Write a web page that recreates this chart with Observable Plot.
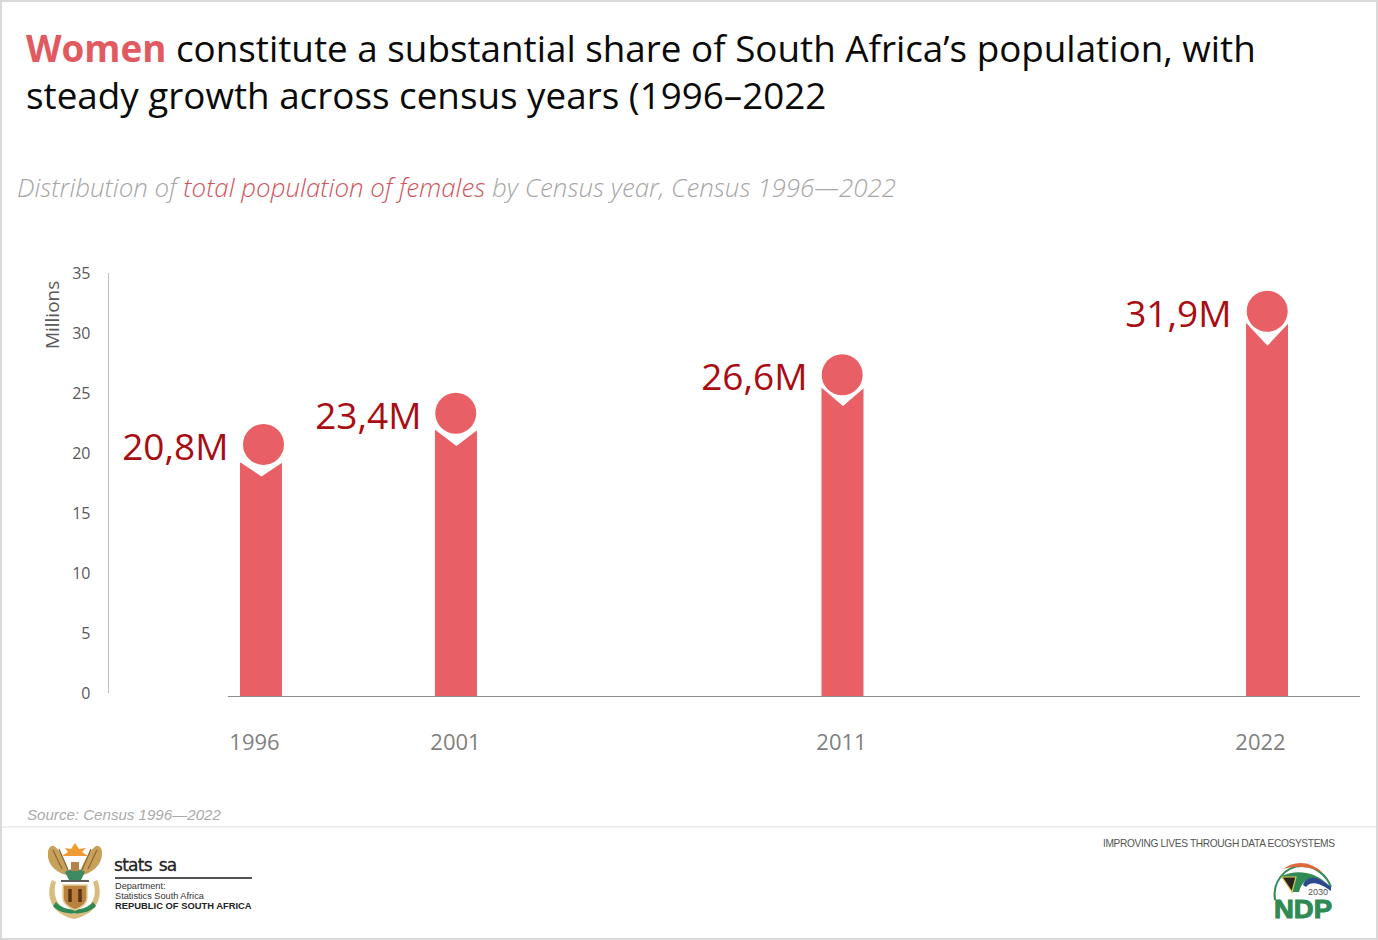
<!DOCTYPE html>
<html><head><meta charset="utf-8">
<script src="https://cdn.jsdelivr.net/npm/d3@7"></script>
<script src="https://cdn.jsdelivr.net/npm/@observablehq/plot@0.6"></script>
<style>
html,body{margin:0;padding:0;background:#fff;overflow:hidden}
#page{position:relative;width:1378px;height:940px;overflow:hidden;font-family:"Open Sans",sans-serif}
#page>*{position:absolute}
#frame{left:0;top:0;width:1374px;height:936px;border:2px solid #d9d9d9;z-index:5;pointer-events:none}
#title{left:26px;top:25px;font-size:36.8px;line-height:47px;color:#0a0a0a;white-space:nowrap}
#title b{color:#e15a60;font-weight:700}
#sub{left:17px;top:170px;font-size:25.9px;line-height:34px;font-style:italic;font-weight:300;color:#a6a6a6;white-space:nowrap}
#sub span{color:#cf5560;font-weight:300}
#chart{left:0;top:230px}
#source{left:27px;top:806px;font:italic 15.1px "Liberation Sans",sans-serif;color:#aaa}
#sep{left:0;top:826px;width:1378px;height:2px;background:#eee}
#stats{left:114px;top:855px;font:500 17px "DejaVu Sans",sans-serif;color:#222;letter-spacing:-.7px;word-spacing:2px;-webkit-text-stroke:.3px #222}
#rule{left:115px;top:877px;width:137px;height:2px;background:#555}
#dept{left:115px;top:881px;font:9.2px/10px "Liberation Sans",sans-serif;color:#333}
#dept b{color:#222;font-size:9.4px}
#motto{left:1103px;top:838px;font:10.2px "Liberation Sans",sans-serif;color:#555;white-space:nowrap;letter-spacing:-.36px}
</style></head>
<body>
<div id="page">
  <div id="title"><b>Women</b> constitute a substantial share of South Africa’s population, with<br>steady growth across census years (1996–2022</div>
  <div id="sub">Distribution of <span>total population of females</span> by Census year, Census 1996—2022</div>
  <div id="chart"></div>
  <div id="source">Source: Census 1996—2022</div>
  <div id="sep"></div>
  <svg style="left:40px;top:840px" width="70" height="85" viewBox="0 0 70 85">
    <path d="M31 36C18 34 7 26 8 13C8 8 11 5 14 6C21 10 26 24 31 36Z" fill="#c9a05a"/>
    <path d="M38 36C51 34 62 26 62 13C62 8 59 5 56 6C49 10 43 24 38 36Z" fill="#c9a05a"/>
    <path d="M13 10L22 29M19 9L28 30M57 10L48 29M51 9L42 30" stroke="#8a6a32" stroke-width="1.2"/>
    <path d="M22 16H48L42 12L46 8L39 9L35 3L31 9L25 8L28 12Z" fill="#ef9a35"/>
    <path d="M12 40C5 55 11 74 34 79C58 74 64 55 57 40L53 42C58 55 53 69 34 74C17 69 12 55 16 42Z" fill="#d8bc7d"/>
    <path d="M13 66C20 76 48 76 56 66L53 62C45 72 24 72 16 62Z" fill="#2f8a54"/>
    <path d="M25 32C30 28 40 28 45 32L41 40H29Z" fill="#3e8a62"/>
    <path d="M31 22H39V31H31Z" fill="#b5824a"/>
    <path d="M21 41H49" stroke="#333" stroke-width="1.6"/>
    <path d="M23 45H47V58C47 64 40 68 35 70C30 68 23 64 23 58Z" fill="#b9813d" stroke="#e3cf9a" stroke-width="1.5"/>
    <path d="M30 49V62M40 49V62" stroke="#5a3415" stroke-width="3.5"/>
  </svg>
  <div id="stats">stats sa</div>
  <div id="rule"></div>
  <div id="dept">Department:<br>Statistics South Africa<br><b>REPUBLIC OF SOUTH AFRICA</b></div>
  <div id="motto">IMPROVING LIVES THROUGH DATA ECOSYSTEMS</div>
  <svg style="left:1265px;top:858px" width="75" height="65" viewBox="0 0 75 65">
    <path d="M10 42C7 24 20 8 37 8C51 8 62 18 66 29" fill="none" stroke="#2f8a54" stroke-width="2"/>
    <path d="M18 11C30 2 46 3 58 15C45 8 32 7 18 11Z" fill="#e0683c"/>
    <path d="M14 19C30 11 48 13 60 24C46 18 38 20 34 34H27C27 27 22 22 14 19Z" fill="#2f8a54"/>
    <path d="M17 19L31 19L27 34Z" fill="#2a2320" stroke="#e3c85a" stroke-width="1.2"/>
    <path d="M38 27C41 18 52 16 66 29L66 33C54 24 45 23 41 29Z" fill="#2e4a8f"/>
    <text x="43" y="37" font-family="Liberation Sans" font-size="9" fill="#555">2030</text>
    <text x="9" y="60" font-family="Liberation Sans" font-weight="700" font-size="25" fill="#2f8a54" stroke="#2f8a54" stroke-width="1" textLength="58" lengthAdjust="spacingAndGlyphs">NDP</text>
  </svg>
  <div id="frame"></div>
</div>
<script>
const years = [1996, 2001, 2011, 2022];
const females = [20.8, 23.4, 26.6, 31.9];
const barTops = [19.5, 22.2, 25.7, 31.1];
const yTicks = [0, 5, 10, 15, 20, 25, 30, 35];

const barColor = "#e86065";
const labelColor = "#a80d12";

// pixel tweaks that follow the reference, one per year
const notchDepth = [14, 16, 18, 22.5];
const barShift = [0, 1.5, 1.1, 0];
const dotShift = [2, 0.8, 0.3, -0.3];
const valueShift = [-33, -33.5, -34.4, -36];
const yearShift = [-7, 0.5, -0.4, -7];

const rows = years.map((year, i) => ({year, value: females[i], top: barTops[i]}));
const notch = (depth) => ({
  draw(c) {
    c.moveTo(-23, -2); c.lineTo(23, -2); c.lineTo(23, 1); c.lineTo(21, 0);
    c.lineTo(0, depth); c.lineTo(-21, 0); c.lineTo(-23, 1); c.closePath();
  }
});

const chart = Plot.plot({
  width: 1378,
  height: 550,
  marginTop: 46,
  marginBottom: 84,
  marginLeft: 228,
  marginRight: 18,
  style: {fontFamily: '"Open Sans", sans-serif', background: "transparent"},
  x: {axis: null, domain: [years[0], years[3]], range: [261, 1267]},
  y: {axis: null, domain: [0, 35]},
  marks: [
    Plot.ruleX([years[0]], {y1: 0, y2: 35, dx: -153, dy: -3, stroke: "#bfbfbf"}),
    Plot.axisY({ticks: yTicks, tickSize: 0, tickPadding: 138, dy: -3, fontSize: 16, color: "#595959", label: null}),
    Plot.text(["Millions"], {x: years[0], y: 31.8, dx: -209, rotate: -90, fontSize: 19, fill: "#595959"}),
    Plot.ruleY([0], {stroke: "#8c8c8c"}),
    ...rows.map((r, i) => Plot.rect([r], {x1: "year", x2: "year", y1: 0, y2: "top", insetLeft: -21, insetRight: -21, dx: barShift[i], fill: barColor})),
    ...rows.map((r, i) => Plot.dot([r], {x: "year", y: "top", r: 10, dx: barShift[i], fill: "white", stroke: "none", symbol: notch(notchDepth[i])})),
    ...rows.map((r, i) => Plot.dot([r], {x: "year", y: "value", r: 20.5, dx: dotShift[i], dy: -2.5, fill: barColor})),
    ...rows.map((r, i) => Plot.text([r], {x: "year", y: "value", text: d => d.value.toFixed(1).replace(".", ",") + "M", dx: valueShift[i], dy: 1, textAnchor: "end", fontSize: 37, fill: labelColor})),
    ...rows.map((r, i) => Plot.text([r], {x: "year", y: 0, dx: yearShift[i], dy: 46, text: d => String(d.year), fontSize: 22, fill: "#7f7f7f"}))
  ]
});
document.getElementById("chart").append(chart);
</script>
</body></html>
